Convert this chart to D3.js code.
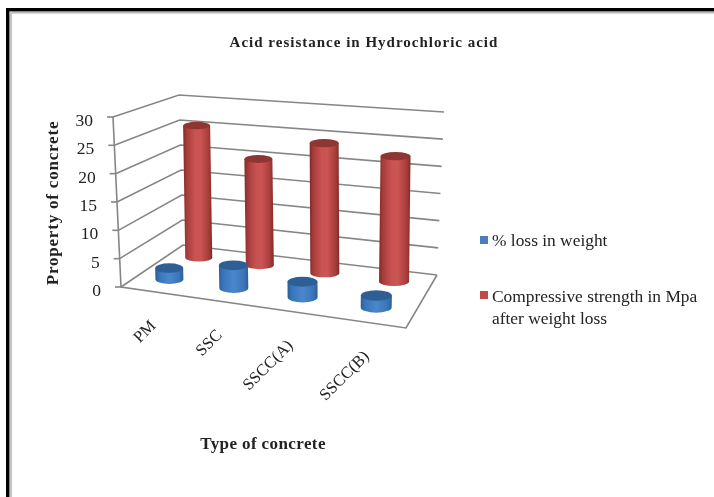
<!DOCTYPE html>
<html><head><meta charset="utf-8">
<script src="https://cdn.jsdelivr.net/npm/d3@7"></script>
<style>html,body{margin:0;padding:0;background:#fff}svg{display:block}text{font-family:"Liberation Serif",serif;fill:#222}</style>
</head><body><svg id="c" width="714" height="497"></svg>
<script>
const categories = ["PM","SSC","SSCC(A)","SSCC(B)"];
const lossInWeight = [2,4,2.7,2];
const compressiveStrength = [25.4,20,24,22.7];
const valueTicks = [0,5,10,15,20,25,30];
const seriesNames = ["% loss in weight","Compressive strength in Mpa","after weight loss"];
const chartTitle = "Acid resistance in Hydrochloric acid";
const xTitle = "Type of concrete";
const yTitle = "Property of concrete";

const svg = d3.select("#c");
const W=714,H=497;
const defs = svg.append("defs");
defs.append("filter").attr("id","soft").attr("x","-5%").attr("y","-5%").attr("width","110%").attr("height","110%")
  .append("feGaussianBlur").attr("stdDeviation",0.55);
function cylGrad(id,stops){
  const g=defs.append("linearGradient").attr("id",id);
  stops.forEach(([o,c])=>g.append("stop").attr("offset",o).attr("stop-color",c));
}
cylGrad("red",[[0,"#7f2a28"],[.12,"#a63c3a"],[.4,"#c85351"],[.6,"#ca5452"],[.88,"#a63c3a"],[1,"#7f2a28"]]);
cylGrad("blue",[[0,"#2a5f9b"],[.15,"#3a75b8"],[.5,"#4a87cc"],[.85,"#3a75b8"],[1,"#2a5f9b"]]);

// frame
svg.append("rect").attr("x",0).attr("y",0).attr("width",W).attr("height",H).attr("fill","#fff");
svg.append("rect").attr("x",6).attr("y",8).attr("width",W-6).attr("height",3.6).attr("fill","#000");
svg.append("rect").attr("x",6).attr("y",8).attr("width",3.6).attr("height",H-8).attr("fill","#000");
svg.append("rect").attr("x",9.6).attr("y",11.6).attr("width",W-9.6).attr("height",2).attr("fill","#bcbcbc");
svg.append("rect").attr("x",9.6).attr("y",11.6).attr("width",2.4).attr("height",H-11.6).attr("fill","#c4c4c4");

// projection: two homographies (floor and top plane) from unit square
function homography(p00,p10,p11,p01){ // (u,v): (0,0)=front-left,(1,0)=front-right,(1,1)=back-right,(0,1)=back-left
  const [x0,y0]=p00,[x1,y1]=p10,[x2,y2]=p11,[x3,y3]=p01;
  const dx1=x1-x2,dx2=x3-x2,dy1=y1-y2,dy2=y3-y2,sx=x0-x1+x2-x3,sy=y0-y1+y2-y3;
  const den=dx1*dy2-dx2*dy1;
  const g=(sx*dy2-dx2*sy)/den,h=(dx1*sy-sx*dy1)/den;
  const a=x1-x0+g*x1,b=x3-x0+h*x3,c=x0,d=y1-y0+g*y1,e=y3-y0+h*y3,f=y0;
  return (u,v)=>{const w=g*u+h*v+1;return [(a*u+b*v+c)/w,(d*u+e*v+f)/w];};
}
const floorH=homography([121,287],[406,328],[437,275],[183,245]);
const topH=homography([113,117],[417,143],[444,112],[179,95]);
const yFrac=d3.scaleLinear().domain([0,30]).range([0,1]);
const xBand=d3.scaleBand().domain(categories).range([0,1]);
function P(u,v,val){
  const a=floorH(u,v),b=topH(u,v),t=yFrac(val);
  return [a[0]+(b[0]-a[0])*t,a[1]+(b[1]-a[1])*t];
}
const root=svg.append("g").attr("filter","url(#soft)");
const gridColor="#868686";
const line=d3.line();
// walls
valueTicks.forEach(v=>{
  root.append("path").attr("fill","none").attr("stroke",gridColor).attr("stroke-width",1.6)
   .attr("d",line([P(0,0,v),P(0,1,v),P(1,1,v)]));
  const f=P(0,0,v);
  root.append("line").attr("x1",f[0]-6).attr("y1",f[1]).attr("x2",f[0]).attr("y2",f[1]).attr("stroke",gridColor).attr("stroke-width",1.6);
  root.append("text").attr("x",f[0]-20).attr("y",f[1]+9).attr("text-anchor","end").attr("font-size",17.5).text(v);
});
root.append("path").attr("fill","none").attr("stroke",gridColor).attr("stroke-width",1.6)
  .attr("d",line([P(0,0,30),P(0,0,0),P(1,0,0),P(1,1,0)]));

function cylinder(u,v,val,color,top,base,ratio){
  const b=P(u,v,0),t0=P(u,v,val);
  const t=[b[0]+(t0[0]-b[0])*0.5,t0[1]];
  const rx=base, ry=rx*ratio;
  const g=root.append("g");
  g.append("path").attr("fill",`url(#${color})`)
   .attr("d",`M${t[0]-rx},${t[1]}L${b[0]-rx},${b[1]}A${rx},${ry} 0 0 0 ${b[0]+rx},${b[1]}L${t[0]+rx},${t[1]}Z`);
  g.append("ellipse").attr("cx",t[0]).attr("cy",t[1]).attr("rx",rx).attr("ry",ry).attr("fill",top);
}
const vBlue=0.26,vRed=0.76;
categories.forEach((c,i)=>{
  const u=xBand(c)+xBand.bandwidth()/2;
  cylinder(u,vRed,compressiveStrength[i],"red","#8f3533",13.5+i*0.5,0.28);
});
categories.forEach((c,i)=>{
  const u=xBand(c)+xBand.bandwidth()/2;
  cylinder(u,vBlue,lossInWeight[i],"blue","#2f5f94",14+i*0.5,0.34);
});
// category labels
categories.forEach((c,i)=>{
  const u=xBand(c)+xBand.bandwidth()/2;
  const p=P(u,0,0);
  root.append("text").attr("transform",`translate(${p[0]+4},${p[1]+35}) rotate(-45)`)
    .attr("text-anchor","end").attr("font-size",16.5).text(c);
});
// titles
root.append("text").attr("x",364).attr("y",47).attr("text-anchor","middle").attr("font-size",15).attr("letter-spacing",1).attr("font-weight","bold").text(chartTitle);
root.append("text").attr("x",263).attr("y",449).attr("text-anchor","middle").attr("font-size",17).attr("letter-spacing",0.4).attr("font-weight","bold").text(xTitle);
root.append("text").attr("transform","translate(58,203) rotate(-90)").attr("text-anchor","middle").attr("font-size",17).attr("letter-spacing",0.8).attr("font-weight","bold").text(yTitle);
// legend
root.append("rect").attr("x",480).attr("y",236).attr("width",8).attr("height",8).attr("fill","#4a7ebb");
root.append("text").attr("x",492).attr("y",246).attr("font-size",17.4).text(seriesNames[0]);
root.append("rect").attr("x",480).attr("y",291).attr("width",8).attr("height",8).attr("fill","#be4b48");
root.append("text").attr("x",492).attr("y",302).attr("font-size",17.4).text(seriesNames[1]);
root.append("text").attr("x",492).attr("y",324).attr("font-size",17.4).text(seriesNames[2]);
</script></body></html>
